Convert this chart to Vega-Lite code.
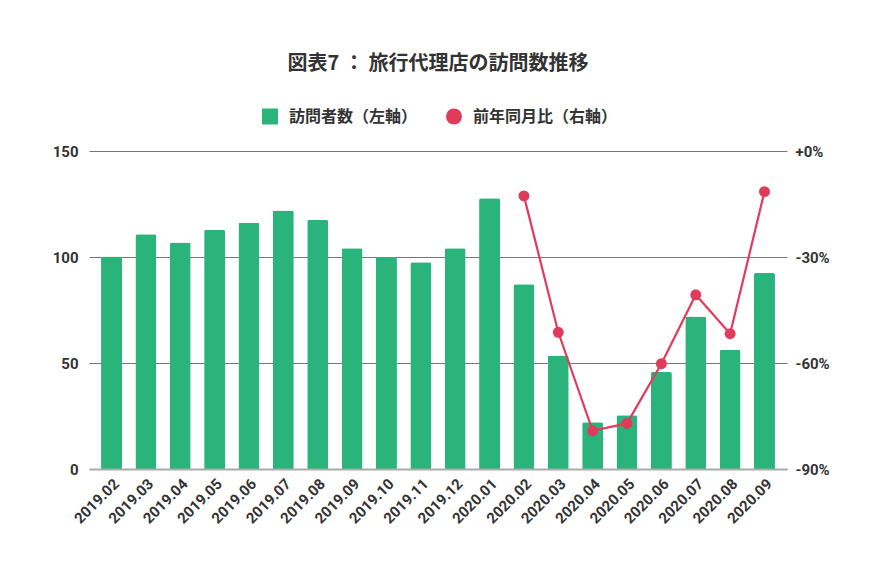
{
  "$schema": "https://vega.github.io/schema/vega-lite/v6.json",
  "width": 698,
  "height": 318,
  "padding": {"top": 54, "left": 52, "right": 40, "bottom": 10},
  "background": "white",
  "config": {
    "font": "Roboto, 'Noto Sans CJK JP'",
    "view": {"stroke": null}
  },
  "title": {
    "text": "図表7 ： 旅行代理店の訪問数推移",
    "fontSize": 20,
    "fontWeight": "bold",
    "color": "#333333",
    "anchor": "middle",
    "offset": 34.5,
    "font": "'Noto Sans CJK JP'"
  },
  "data": {
    "values": [
      {"month": "2019.02", "visitors": 100.2, "yoy": null},
      {"month": "2019.03", "visitors": 110.7, "yoy": null},
      {"month": "2019.04", "visitors": 106.8, "yoy": null},
      {"month": "2019.05", "visitors": 112.8, "yoy": null},
      {"month": "2019.06", "visitors": 116.1, "yoy": null},
      {"month": "2019.07", "visitors": 121.9, "yoy": null},
      {"month": "2019.08", "visitors": 117.5, "yoy": null},
      {"month": "2019.09", "visitors": 104.1, "yoy": null},
      {"month": "2019.10", "visitors": 100.0, "yoy": null},
      {"month": "2019.11", "visitors": 97.5, "yoy": null},
      {"month": "2019.12", "visitors": 104.1, "yoy": null},
      {"month": "2020.01", "visitors": 127.7, "yoy": null},
      {"month": "2020.02", "visitors": 87.2, "yoy": -12.7},
      {"month": "2020.03", "visitors": 53.5, "yoy": -51.3},
      {"month": "2020.04", "visitors": 22.1, "yoy": -79.2},
      {"month": "2020.05", "visitors": 25.4, "yoy": -77.1},
      {"month": "2020.06", "visitors": 45.7, "yoy": -60.2},
      {"month": "2020.07", "visitors": 71.9, "yoy": -40.7},
      {"month": "2020.08", "visitors": 56.2, "yoy": -51.7},
      {"month": "2020.09", "visitors": 92.4, "yoy": -11.5}
    ]
  },
  "encoding": {
    "x": {
      "field": "month",
      "type": "ordinal",
      "sort": null,
      "scale": {"paddingInner": 0.39, "paddingOuter": 0.35},
      "axis": {
        "title": null,
        "labelAngle": -45,
        "labelFontSize": 15,
        "labelFontWeight": "bold",
        "labelColor": "#333333",
        "ticks": false,
        "labelPadding": 7,
        "domainColor": "#aaaaaa",
        "domainWidth": 2,
        "zindex": 1
      }
    }
  },
  "layer": [
    {
      "mark": {"type": "bar", "cornerRadiusEnd": 2},
      "encoding": {
        "y": {
          "field": "visitors",
          "type": "quantitative",
          "scale": {"domain": [0, 150]},
          "axis": {
            "title": null,
            "values": [0, 50, 100, 150],
            "domain": false,
            "ticks": false,
            "labelFontSize": 15,
            "labelFontWeight": "bold",
            "labelColor": "#333333",
            "labelPadding": 11,
            "gridColor": "#777777",
            "gridWidth": 1
          }
        },
        "color": {
          "datum": "訪問者数（左軸）",
          "scale": {
            "domain": ["訪問者数（左軸）", "前年同月比（右軸）"],
            "range": ["#2ab47b", "#e13b5b"]
          },
          "legend": {
            "title": null,
            "orient": "none",
            "legendX": 173,
            "legendY": -42.5,
            "direction": "horizontal",
            "labelFontSize": 16,
            "labelFontWeight": "bold",
            "labelColor": "#333333",
            "labelFont": "'Noto Sans CJK JP'",
            "labelOffset": 11,
            "symbolSize": 256,
            "columnPadding": 28,
            "encode": {
              "symbols": {
                "update": {
                  "shape": {"signal": "datum.value === '訪問者数（左軸）' ? 'square' : 'circle'"},
                  "strokeWidth": {"value": 0}
                }
              }
            }
          }
        }
      }
    },
    {
      "mark": {"type": "line", "strokeWidth": 2.2, "point": {"size": 120, "filled": true, "opacity": 1}},
      "transform": [{"filter": "datum.yoy != null"}],
      "encoding": {
        "y": {
          "field": "yoy",
          "type": "quantitative",
          "scale": {"domain": [-90, 0]},
          "axis": {
            "orient": "right",
            "title": null,
            "values": [-90, -60, -30, 0],
            "labelExpr": "(datum.value >= 0 ? '+' : '') + datum.value + '%'",
            "domain": false,
            "ticks": false,
            "grid": false,
            "labelFontSize": 15,
            "labelFontWeight": "bold",
            "labelColor": "#333333",
            "labelPadding": 8
          }
        },
        "color": {"datum": "前年同月比（右軸）"}
      }
    }
  ],
  "resolve": {"scale": {"y": "independent"}}
}
